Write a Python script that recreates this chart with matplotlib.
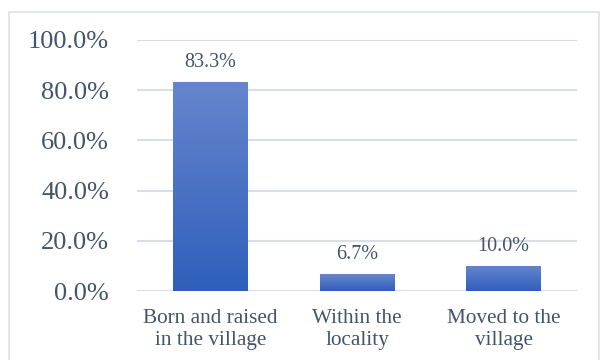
import numpy as np
import matplotlib.pyplot as plt
from matplotlib.patches import Rectangle

categories = ["Born and raised\nin the village", "Within the\nlocality", "Moved to the\nvillage"]
values = [83.3, 6.7, 10.0]
yticks = [0, 20, 40, 60, 80, 100]

text_color = "#44546a"
grid_color = "#d9dde6"

plt.rcParams["font.family"] = ["Liberation Serif", "DejaVu Serif"]

fig = plt.figure(figsize=(6.03, 3.6), dpi=100)
ax = fig.add_axes([137 / 603, 1 - 291 / 360, 440 / 603, 251 / 360])

x = np.arange(len(categories))
width = 0.51
bars = ax.bar(x, values, width=width, color="none", edgecolor="none")

# vertical gradient fill for each bar
grad = np.linspace(0, 1, 256).reshape(-1, 1)
cmap = plt.matplotlib.colors.LinearSegmentedColormap.from_list("bar", ["#2f5fbb", "#6686cd"])
for b in bars:
    x0, y0 = b.get_x(), b.get_y()
    w, h = b.get_width(), b.get_height()
    im = ax.imshow(grad, cmap=cmap, aspect="auto", origin="lower",
                   extent=[x0, x0 + w, y0, y0 + h], zorder=2)
    im.set_clip_path(b)

for xi, v in zip(x, values):
    ax.text(xi, v + 4, f"{v:.1f}%", ha="center", va="bottom", fontsize=14.5, color=text_color)

ax.set_xlim(-0.5, len(categories) - 0.5)
ax.set_ylim(0, 100)
ax.set_yticks(yticks)
ax.set_yticklabels([f"{t:.1f}%" for t in yticks], fontsize=19, color=text_color)
ax.set_xticks(x)
ax.set_xticklabels(categories, fontsize=15.3, color=text_color, linespacing=1.2)
ax.tick_params(length=0)
ax.tick_params(axis="y", pad=20)
ax.tick_params(axis="x", pad=13)
ax.grid(axis="y", color=grid_color, linewidth=1.5, zorder=0)
ax.set_axisbelow(True)
for s in ax.spines.values():
    s.set_visible(False)

# outer frame
fig.patches.append(Rectangle((9 / 603, -0.05), 590 / 603, 1.05 - 12 / 360, transform=fig.transFigure,
                             fill=False, edgecolor="#dde1e8", linewidth=1.2))

fig.savefig("out.png", dpi=100)
